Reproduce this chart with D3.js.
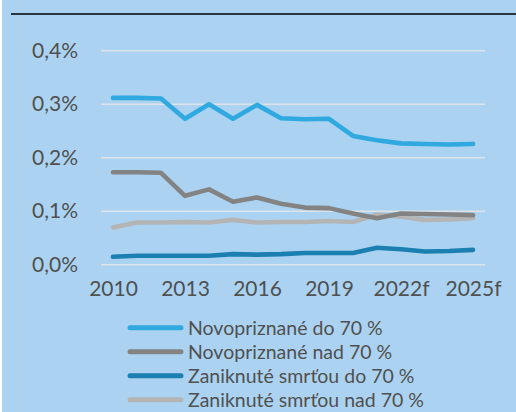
<!DOCTYPE html>
<html>
<head>
<meta charset="utf-8">
<script src="https://cdn.jsdelivr.net/npm/d3@7"></script>
<style>
  html, body { margin: 0; padding: 0; background: #ffffff; }
  svg { display: block; }
</style>
</head>
<body>
<div id="chart"></div>
<script>
const years = ["2010","2011","2012","2013","2014","2015","2016","2017","2018","2019","2020","2021","2022f","2023f","2024f","2025f"];
const tickYears = ["2010","2013","2016","2019","2022f","2025f"];
const yTicks = [0, 0.001, 0.002, 0.003, 0.004];

const novoDo70 = [0.00311,0.00311,0.00310,0.00272,0.00299,0.00272,0.00298,0.00273,0.00271,0.00272,0.00240,0.00232,0.00226,0.00225,0.00224,0.00225];
const novoNad70 = [0.00172,0.00172,0.00171,0.00128,0.00140,0.00117,0.00125,0.00113,0.00106,0.00105,0.00095,0.00086,0.00095,0.00094,0.00093,0.00092];
const zanDo70 = [0.00014,0.00016,0.00016,0.00016,0.00016,0.00019,0.00018,0.00019,0.00021,0.00021,0.00021,0.00031,0.00028,0.00024,0.00025,0.00027];
const zanNad70 = [0.00069,0.00078,0.00078,0.00079,0.00078,0.00083,0.00078,0.00079,0.00079,0.00081,0.00079,0.00093,0.00089,0.00083,0.00084,0.00086];

const seriesNames = ["Novopriznané do 70 %","Novopriznané nad 70 %","Zaniknuté smrťou do 70 %","Zaniknuté smrťou nad 70 %"];
const seriesColors = ["#2fa9df","#838383","#1b80b1","#b4b4b4"];
const seriesValues = [novoDo70, novoNad70, zanDo70, zanNad70];
const drawOrder = [3, 1, 2, 0];

const W = 516, H = 412;
const svg = d3.select("#chart").append("svg").attr("width", W).attr("height", H);

svg.append("rect").attr("x", 2).attr("y", 0).attr("width", W - 2).attr("height", H).attr("fill", "#abd3f1");

svg.append("line").attr("x1", 11).attr("x2", W).attr("y1", 14).attr("y2", 14)
  .attr("stroke", "#000").attr("stroke-width", 1.5);

const x = d3.scalePoint().domain(years).range([101, 485]).padding(0.5);
const y = d3.scaleLinear().domain([0, 0.004]).range([264.3, 50.3]);

const font = "Lato, 'Open Sans', sans-serif";

const yAxis = d3.axisLeft(y).tickValues(yTicks).tickSize(-(485 - 101)).tickPadding(23)
  .tickFormat(d => d3.format(".1f")(d * 100).replace(".", ",") + "%");
const gy = svg.append("g").attr("transform", "translate(101,0)").call(yAxis);
gy.select(".domain").remove();
gy.selectAll(".tick line").attr("stroke", "#dde3e8").attr("stroke-width", 1.4);
gy.selectAll(".tick text").attr("fill", "#505050").style("font-family", font).style("font-size", "21px");

const xAxis = d3.axisBottom(x).tickValues(tickYears).tickSize(0).tickPadding(0);
const gx = svg.append("g").attr("transform", "translate(0,281)").call(xAxis);
gx.select(".domain").remove();
gx.selectAll(".tick text").attr("fill", "#505050").style("font-family", font).style("font-size", "21px");

const line = d3.line().x((d, i) => x(years[i])).y(d => y(d));

drawOrder.forEach(k => {
  svg.append("path").datum(seriesValues[k])
    .attr("d", line)
    .attr("fill", "none")
    .attr("stroke", seriesColors[k])
    .attr("stroke-width", 4.6)
    .attr("stroke-linejoin", "round")
    .attr("stroke-linecap", "round");
});

const lg = svg.append("g");
seriesNames.forEach((name, k) => {
  const cy = 327.7 + k * 24;
  lg.append("line").attr("x1", 130).attr("x2", 181).attr("y1", cy).attr("y2", cy)
    .attr("stroke", seriesColors[k]).attr("stroke-width", 5).attr("stroke-linecap", "round");
  lg.append("text").attr("x", 188).attr("y", cy).attr("dy", "0.36em")
    .attr("fill", "#505050").style("font-family", font).style("font-size", "19.5px")
    .text(name);
});
</script>
</body>
</html>
